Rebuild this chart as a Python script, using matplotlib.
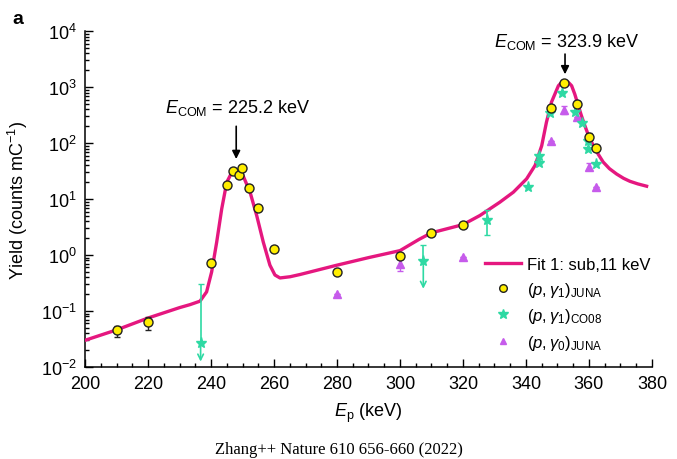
import numpy as np
import matplotlib
matplotlib.use("Agg")
import matplotlib.pyplot as plt
from matplotlib.lines import Line2D
from matplotlib.ticker import MultipleLocator, LogLocator, NullFormatter

plt.rcParams['font.family'] = ['Liberation Sans', 'DejaVu Sans']
plt.rcParams['mathtext.fontset'] = 'custom'
plt.rcParams['mathtext.rm'] = 'Liberation Sans'
plt.rcParams['mathtext.it'] = 'Liberation Sans:italic'
plt.rcParams['mathtext.bf'] = 'Liberation Sans:bold'

# fit curve
fit_E = [200, 210, 220, 230, 233.3, 236.5, 238.6, 240.2, 241.8, 243.4, 245, 246.6,
         248.2, 250.2, 252.4, 254.5, 256.6, 258.7, 260.3, 261.9, 265.1, 268.3, 280,
         290, 300, 306, 310, 320, 325.4, 331.7, 336, 340.2, 342.9, 345, 346.5, 348.1,
         350.3, 351.4, 352.4, 353.4, 354.5, 355.5, 356.6, 357.6, 358.7, 360, 361.4,
         362.9, 364.5, 366.5, 368.8, 371, 373, 375.5, 378.3]
fit_Y = [0.030, 0.046, 0.075, 0.115, 0.13, 0.15, 0.22, 0.50, 1.7, 6.7, 20, 30,
         31, 26, 13.3, 5.1, 1.7, 0.66, 0.44, 0.39, 0.41, 0.45, 0.66,
         0.9, 1.2, 1.9, 2.5, 3.5, 5.1, 8.8, 13.3, 23, 40, 90, 236, 540,
         1060, 1230, 1290, 1230, 1060, 750, 470, 310, 205, 130, 90,
         64, 46, 35, 28, 23.5, 20.8, 18.7, 17]

# (p, gamma1) JUNA
juna1_E = [210, 220, 239.9, 245, 246.9, 248.9, 249.9, 252, 254.9, 260, 280, 300, 310, 320,
           347.9, 352.2, 356.1, 360, 362.1]
juna1_Y = [0.045, 0.063, 0.71, 17.5, 32, 27, 36, 16, 7.0, 1.26, 0.50, 0.95, 2.5, 3.5,
           430, 1200, 500, 130, 82]
juna1_lo = [0.034, 0.046, 0.71, 17.5, 32, 27, 36, 16, 7.0, 1.26, 0.50, 0.88, 2.5, 3.5,
            430, 1200, 500, 115, 82]
juna1_hi = [0.054, 0.079, 0.71, 17.5, 32, 27, 36, 16, 7.0, 1.26, 0.50, 1.05, 2.5, 3.5,
            430, 1200, 500, 150, 82]

# (p, gamma1) CO08
co08_E = [327.7, 340.5, 344.2, 344.2, 347.6, 351.5, 355.6, 357.7, 359.6, 359.8, 362.3]
co08_Y = [4.2, 16.4, 59, 44, 350, 780, 365, 230, 107, 79, 43]
co08_lo = [2.3, 16.4, 59, 44, 350, 780, 365, 230, 107, 79, 43]
co08_hi = [6.3, 16.4, 59, 44, 350, 780, 365, 230, 107, 79, 43]
# CO08 points with a downward arrow
co08_lim_E = [236.7, 307.4]
co08_lim_Y = [0.027, 0.78]
co08_lim_top = [0.31, 1.53]
co08_lim_bot = [0.0125, 0.25]

# (p, gamma0) JUNA
juna0_E = [280, 300, 320, 347.9, 352.2, 356.1, 360.1, 362.1]
juna0_Y = [0.20, 0.68, 0.93, 111, 390, 290, 38, 16.4]
juna0_lo = [0.20, 0.52, 0.93, 111, 330, 290, 33, 16.4]
juna0_hi = [0.20, 0.90, 0.93, 111, 460, 290, 44, 16.4]

pink = '#E5177F'
yellow = '#FFEE00'
green = '#2ED9A3'
purple = '#C65BEB'

fig = plt.figure(figsize=(6.77, 4.60), dpi=100)
ax = fig.add_axes([0.1256, 0.2, 0.8374, 0.73])

ax.plot(fit_E, fit_Y, color=pink, lw=2.4, solid_joinstyle='round', zorder=3)

y = np.array(juna0_Y)
ax.errorbar(juna0_E, y, yerr=[y - np.array(juna0_lo), np.array(juna0_hi) - y],
            fmt='^', ms=6, color=purple, mec=purple, ecolor=purple, elinewidth=1,
            capsize=2.5, zorder=4)

y = np.array(co08_Y)
ax.errorbar(co08_E, y, yerr=[y - np.array(co08_lo), np.array(co08_hi) - y],
            fmt='*', ms=8, color=green, mec=green, ecolor=green, elinewidth=1.2,
            capsize=2.5, zorder=4)
y = np.array(co08_lim_Y)
ax.errorbar(co08_lim_E, y, yerr=[np.zeros(len(y)), np.array(co08_lim_top) - y],
            fmt='*', ms=8, color=green, mec=green, ecolor=green, elinewidth=1.2,
            capsize=2.5, zorder=4)
for e, yy, b in zip(co08_lim_E, co08_lim_Y, co08_lim_bot):
    ax.annotate('', xy=(e, b), xytext=(e, yy),
                arrowprops=dict(arrowstyle='->', color=green, lw=1.2,
                                shrinkA=0, shrinkB=0, mutation_scale=10))

y = np.array(juna1_Y)
ax.errorbar(juna1_E, y, yerr=[y - np.array(juna1_lo), np.array(juna1_hi) - y],
            fmt='o', ms=6.5, mfc=yellow, mec='#222222', mew=1.0, ecolor='#222222',
            elinewidth=1, capsize=2.5, zorder=5)

ax.set_yscale('log')
ax.set_xlim(200, 380)
ax.set_ylim(1e-2, 1e4)
ax.xaxis.set_major_locator(MultipleLocator(20))
ax.xaxis.set_minor_locator(MultipleLocator(5))
ax.yaxis.set_major_locator(LogLocator(base=10, numticks=10))
ax.yaxis.set_minor_locator(LogLocator(base=10, subs=np.arange(2, 10), numticks=20))
ax.yaxis.set_minor_formatter(NullFormatter())
ax.tick_params(which='both', direction='in', labelsize=13, width=1)
ax.tick_params(which='major', length=6, pad=6)
ax.tick_params(which='minor', length=3)
for s in ['top', 'right']:
    ax.spines[s].set_visible(False)
for s in ['left', 'bottom']:
    ax.spines[s].set_linewidth(1.1)

ax.set_xlabel(r'$E_{\rm p}$ (keV)', fontsize=13, labelpad=6)
ax.set_ylabel(r'Yield (counts mC$^{-1}$)', fontsize=13, labelpad=8)

ax.annotate('', xy=(248, 52), xytext=(248, 200),
            arrowprops=dict(arrowstyle='-|>', color='black', lw=1.2, mutation_scale=12,
                            shrinkA=0, shrinkB=0))
ax.text(248.6, 440, r'$E_{\rm COM}$ = 225.2 keV', fontsize=13, ha='center', va='center')
ax.annotate('', xy=(352.4, 1700), xytext=(352.4, 3900),
            arrowprops=dict(arrowstyle='-|>', color='black', lw=1.2, mutation_scale=12,
                            shrinkA=0, shrinkB=0))
ax.text(353, 6600, r'$E_{\rm COM}$ = 323.9 keV', fontsize=13, ha='center', va='center')

handles = [
    Line2D([], [], color=pink, lw=2.4),
    Line2D([], [], ls='none', marker='o', ms=5.5, mfc=yellow, mec='#222222', mew=1.0),
    Line2D([], [], ls='none', marker='*', ms=7, color=green),
    Line2D([], [], ls='none', marker='^', ms=5, color=purple),
]
labels = ['Fit 1: sub,11 keV', r'$(p,\gamma_1)_{\rm JUNA}$',
          r'$(p,\gamma_1)_{\rm CO08}$', r'$(p,\gamma_0)_{\rm JUNA}$']
ax.legend(handles, labels, loc='upper left',
          bbox_to_anchor=(0.705, 0.327), frameon=False, fontsize=12,
          borderaxespad=0, borderpad=0, handlelength=2.2, handletextpad=0.35,
          labelspacing=0.45)

fig.text(0.018, 0.975, 'a', fontsize=14, fontweight='bold', ha='left', va='top')
fig.text(0.5, 0.022, 'Zhang++ Nature 610 656-660 (2022)', fontsize=12,
         family=['Liberation Serif', 'DejaVu Serif'], ha='center', va='center')

fig.savefig('out.png', dpi=100)
